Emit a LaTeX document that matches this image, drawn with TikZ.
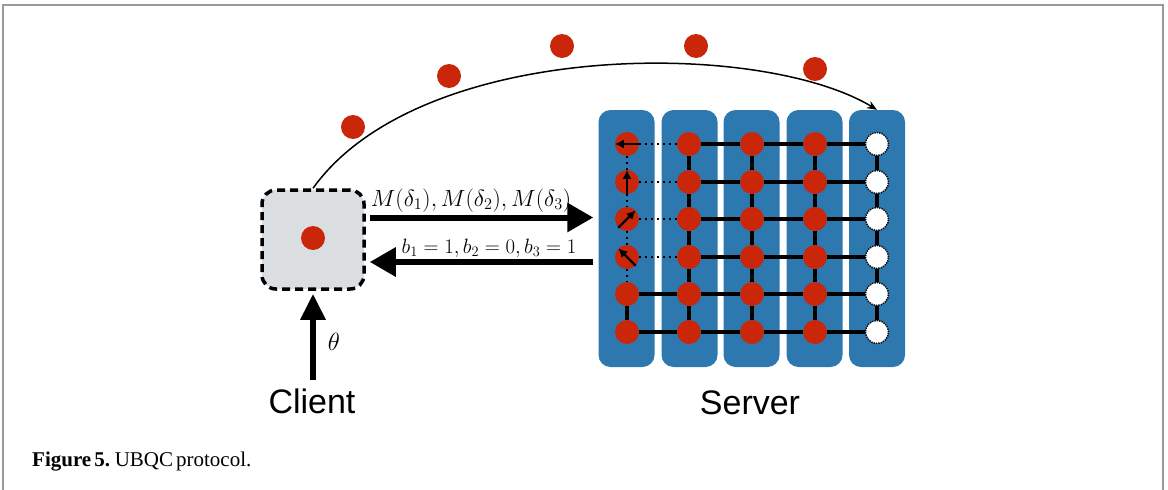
\documentclass[tikz,border=0pt]{standalone}
\usepackage{fontspec}
\setmainfont{Liberation Serif}
\newfontfamily\sanslabel{Liberation Sans}
\usetikzlibrary{arrows.meta}

\begin{document}
\begin{tikzpicture}[x=1pt,y=-1pt,
  column/.style={fill=serverblue,rounded corners=12pt,minimum width=56pt,minimum height=257pt,inner sep=0pt},
  qubit/.style={circle,fill=qubitred,minimum size=24pt,inner sep=0pt},
  trap/.style={circle,fill=white,draw=black,line width=1.4pt,densely dotted,minimum size=23pt,inner sep=0pt},
  bond/.style={line width=3.5pt},
  pending/.style={line width=2.5pt,dash pattern=on 2pt off 4pt},
  spin/.style={line width=2.4pt,-{Latex[length=9pt,width=9pt]}},
  channel/.style={line width=6pt,-{Triangle[length=26pt,width=28pt]}},
  bigtext/.style={font=\sanslabel\fontsize{34}{40}\selectfont}]
\definecolor{qubitred}{rgb}{0.79,0.15,0.04}
\definecolor{serverblue}{rgb}{0.18,0.47,0.69}
\definecolor{clientgray}{rgb}{0.86,0.87,0.88}
\definecolor{framegray}{rgb}{0.6,0.6,0.6}
\useasboundingbox (0,0) rectangle (1168,490);
\draw[framegray,line width=1.5pt] (3,490) -- (3,5) -- (1163,5) -- (1163,490);

% server columns
\node[column] (col1) at (626.5,238.5) {};
\node[column] (col2) at (689.5,238.5) {};
\node[column] (col3) at (751.5,238.5) {};
\node[column] (col4) at (814.5,238.5) {};
\node[column] (col5) at (877,238.5) {};

% qubits, q<column><row>
\node[qubit] (q11) at (627,144) {};
\node[qubit] (q12) at (627,182) {};
\node[qubit] (q13) at (627,219) {};
\node[qubit] (q14) at (627,257) {};
\node[qubit] (q15) at (627,294) {};
\node[qubit] (q16) at (627,332) {};
\node[qubit] (q21) at (689,144) {};
\node[qubit] (q22) at (689,182) {};
\node[qubit] (q23) at (689,219) {};
\node[qubit] (q24) at (689,257) {};
\node[qubit] (q25) at (689,294) {};
\node[qubit] (q26) at (689,332) {};
\node[qubit] (q31) at (752,144) {};
\node[qubit] (q32) at (752,182) {};
\node[qubit] (q33) at (752,219) {};
\node[qubit] (q34) at (752,257) {};
\node[qubit] (q35) at (752,294) {};
\node[qubit] (q36) at (752,332) {};
\node[qubit] (q41) at (815,144) {};
\node[qubit] (q42) at (815,182) {};
\node[qubit] (q43) at (815,219) {};
\node[qubit] (q44) at (815,257) {};
\node[qubit] (q45) at (815,294) {};
\node[qubit] (q46) at (815,332) {};
\node[trap] (q51) at (877,144) {};
\node[trap] (q52) at (877,182) {};
\node[trap] (q53) at (877,219) {};
\node[trap] (q54) at (877,257) {};
\node[trap] (q55) at (877,294) {};
\node[trap] (q56) at (877,332) {};

% entangling bonds
\draw[bond] (q21) -- (q31) -- (q41) -- (q51);
\draw[bond] (q22) -- (q32) -- (q42) -- (q52);
\draw[bond] (q23) -- (q33) -- (q43) -- (q53);
\draw[bond] (q24) -- (q34) -- (q44) -- (q54);
\draw[bond] (q15) -- (q25) -- (q35) -- (q45) -- (q55);
\draw[bond] (q16) -- (q26) -- (q36) -- (q46) -- (q56);
\draw[bond] (q21) -- (q22) -- (q23) -- (q24) -- (q25) -- (q26);
\draw[bond] (q31) -- (q32) -- (q33) -- (q34) -- (q35) -- (q36);
\draw[bond] (q41) -- (q42) -- (q43) -- (q44) -- (q45) -- (q46);
\draw[bond] (q51) -- (q52) -- (q53) -- (q54) -- (q55) -- (q56);
\draw[bond] (q15) -- (q16);
% measured column
\draw[pending] (q11) -- (q12) -- (q13) -- (q14) -- (q15);
\draw[pending] (q11) -- (q21);
\draw[pending] (q12) -- (q22);
\draw[pending] (q13) -- (q23);
\draw[pending] (q14) -- (q24);
\draw[spin] (q11.east) -- (q11.west);
\draw[spin] (q12.south) -- (q12.north);
\draw[spin] (q13.south west) -- (q13.north east);
\draw[spin] (q14.south east) -- (q14.north west);

% client
\node[draw=black,fill=clientgray,line width=3.5pt,dash pattern=on 8pt off 5pt,rounded corners=14pt,minimum width=102pt,minimum height=99pt] (client) at (313,239.5) {};
\node[qubit] (secret) at (313,238) {};
\draw[channel,shorten <=4pt,shorten >=5pt] ([yshift=22pt]client.east) -- ([yshift=22pt]client.east -| col1.west);
\draw[channel,shorten <=5pt,shorten >=4pt] ([yshift=-22.5pt]client.east -| col1.west) -- ([yshift=-22.5pt]client.east);
\node[font=\fontsize{21.5}{24}\selectfont,anchor=base] (angles) at (471,206) {\scalebox{1.13}{$M(\delta_1), M(\delta_2), M(\delta_3)$}};
\node[font=\fontsize{21.5}{24}\selectfont,anchor=base] (outcomes) at (489,253) {$b_1=1, b_2=0, b_3=1$};
\coordinate (input) at (313,380);
\draw[line width=6pt,-{Triangle[length=26pt,width=24pt]},shorten >=3pt] (input) -- (client.south);
\node[font=\fontsize{28}{32}\selectfont] (theta) at (334,342) {$\theta$};

% qubits sent one by one
\node[qubit] (p1) at (353,127) {};
\node[qubit] (p2) at (449,76) {};
\node[qubit] (p3) at (562,46) {};
\node[qubit] (p4) at (696,46) {};
\node[qubit] (p5) at (815,69) {};
\draw[line width=1.5pt,-{Stealth[length=10pt,width=8pt]}] (client.north) .. controls (420,39) and (760,39) .. (col5.north);

\node[bigtext,anchor=base] (clientname) at (312,413) {Client};
\node[bigtext,anchor=base] (servername) at (750,414) {Server};
\node[anchor=base west,inner sep=0pt,font=\fontsize{21}{24}\selectfont] (caption) at (32,466) {\spaceskip=3pt\relax\textbf{Figure 5.} UBQC protocol.};
\end{tikzpicture}
\end{document}
